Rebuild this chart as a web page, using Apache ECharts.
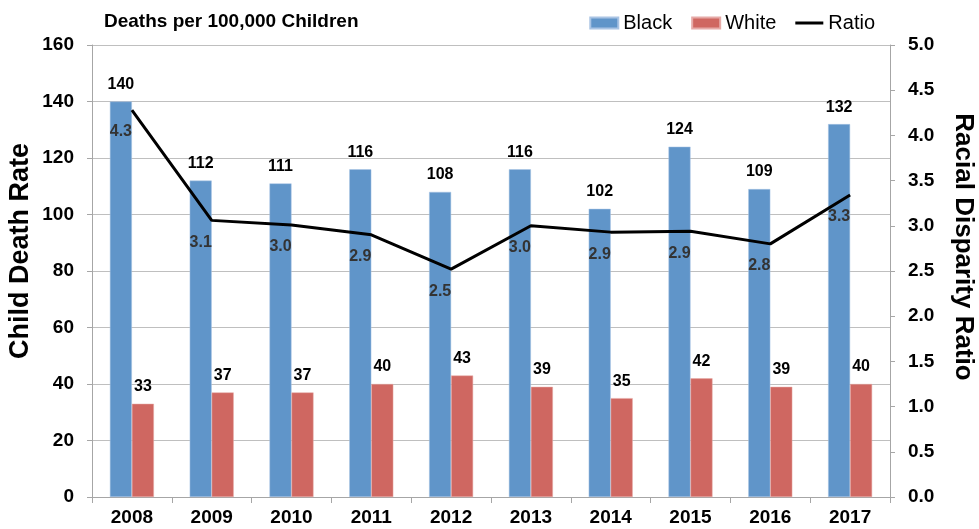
<!DOCTYPE html>
<html>
<head>
<meta charset="utf-8">
<script src="https://cdn.jsdelivr.net/npm/echarts@6/dist/echarts.min.js"></script>
<style>html,body{margin:0;padding:0;background:#fff;}#c{width:979px;height:529px;}</style>
</head>
<body>
<div id="c"></div>
<script>
const years = ['2008','2009','2010','2011','2012','2013','2014','2015','2016','2017'];
const blackRates = [140,112,111,116,108,116,102,124,109,132];
const whiteRates = [33,37,37,40,43,39,35,42,39,40];
const ratios = [4.28,3.06,3.01,2.9,2.52,3.0,2.93,2.94,2.8,3.34];
const leftTicks = [0,20,40,60,80,100,120,140,160];
const rightTicks = [0,0.5,1,1.5,2,2.5,3,3.5,4,4.5,5];
const leftAxisTitle = 'Child Death Rate';
const rightAxisTitle = 'Racial Disparity Ratio';

const FONT = '"Liberation Sans", Arial, sans-serif';
const chart = echarts.init(document.getElementById('c'), null, {renderer:'canvas'});
chart.setOption({
  animation: false,
  textStyle: {fontFamily: FONT},
  title: {
    text: 'Deaths per 100,000 Children',
    left: 99, top: 7,
    textStyle: {fontFamily: FONT, fontSize: 19, fontWeight: 'bold', color: '#000'}
  },
  legend: {
    right: 99, top: 8,
    itemWidth: 28, itemHeight: 11, itemGap: 19,
    textStyle: {fontFamily: FONT, fontSize: 20, color: '#000'},
    data: [
      {name: 'Black', icon: 'rect'},
      {name: 'White', icon: 'rect'},
      {name: 'Ratio', icon: 'path://M0,0L28,0L28,3L0,3Z', itemStyle: {color: '#000'}}
    ]
  },
  graphic: [
    {type: 'text', x: 21, y: 251, rotation: Math.PI / 2,
     style: {text: leftAxisTitle, fontFamily: FONT, fontSize: 27, fontWeight: 'bold', fill: '#000', align: 'center', verticalAlign: 'middle'}},
    {type: 'text', x: 963, y: 247, rotation: -Math.PI / 2,
     style: {text: rightAxisTitle, fontFamily: FONT, fontSize: 26, fontWeight: 'bold', fill: '#000', align: 'center', verticalAlign: 'middle'}}
  ],
  grid: {left: 92, right: 89, top: 45, bottom: 32, containLabel: false, outerBoundsMode: 'none'},
  xAxis: {
    type: 'category',
    data: years,
    axisLine: {lineStyle: {color: '#a6a6a6', width: 1}},
    axisTick: {show: true, length: 6, lineStyle: {color: '#a6a6a6'}},
    axisLabel: {fontFamily: FONT, fontSize: 19, fontWeight: 'bold', color: '#000', margin: 11}
  },
  yAxis: [
    {
      type: 'value', min: 0, max: 160, interval: 20,
      axisLine: {show: true, lineStyle: {color: '#a6a6a6'}},
      axisTick: {show: true, length: 5, lineStyle: {color: '#a6a6a6'}},
      axisLabel: {fontFamily: FONT, fontSize: 19, fontWeight: 'bold', color: '#000', margin: 18,
        formatter: v => leftTicks.includes(v) ? String(v) : ''},
      splitLine: {show: true, lineStyle: {color: '#bfbfbf', width: 1}}
    },
    {
      type: 'value', min: 0, max: 5, interval: 0.5,
      axisLine: {show: true, lineStyle: {color: '#a6a6a6'}},
      axisTick: {show: true, length: 5, lineStyle: {color: '#a6a6a6'}},
      axisLabel: {fontFamily: FONT, fontSize: 19, fontWeight: 'bold', color: '#000', margin: 18,
        formatter: v => rightTicks.includes(v) ? v.toFixed(1) : ''},
      splitLine: {show: false}
    }
  ],
  series: [
    {
      name: 'Black', type: 'bar', data: blackRates, barWidth: 22, barGap: '0%',
      itemStyle: {color: '#6095c9', borderColor: '#a9c4e4', borderWidth: 0.5},
      label: {show: true, position: 'top', distance: 9, fontFamily: FONT, fontSize: 16, fontWeight: 'bold', color: '#000'}
    },
    {
      name: 'White', type: 'bar', data: whiteRates, barWidth: 22, barGap: '0%',
      itemStyle: {color: '#cf6761', borderColor: '#e6aaa7', borderWidth: 0.5},
      label: {show: true, position: 'top', distance: 9, fontFamily: FONT, fontSize: 16, fontWeight: 'bold', color: '#000'}
    },
    {
      name: 'Ratio', type: 'line', yAxisIndex: 1, data: ratios,
      symbol: 'circle', symbolSize: 0, showSymbol: true,
      lineStyle: {color: '#000', width: 3},
      itemStyle: {color: '#000'},
      label: {show: true, position: 'bottom', distance: 12, offset: [-11, 2],
        fontFamily: FONT, fontSize: 16, fontWeight: 'bold', color: '#333',
        formatter: p => p.value.toFixed(1)}
    }
  ]
});
</script>
</body>
</html>
